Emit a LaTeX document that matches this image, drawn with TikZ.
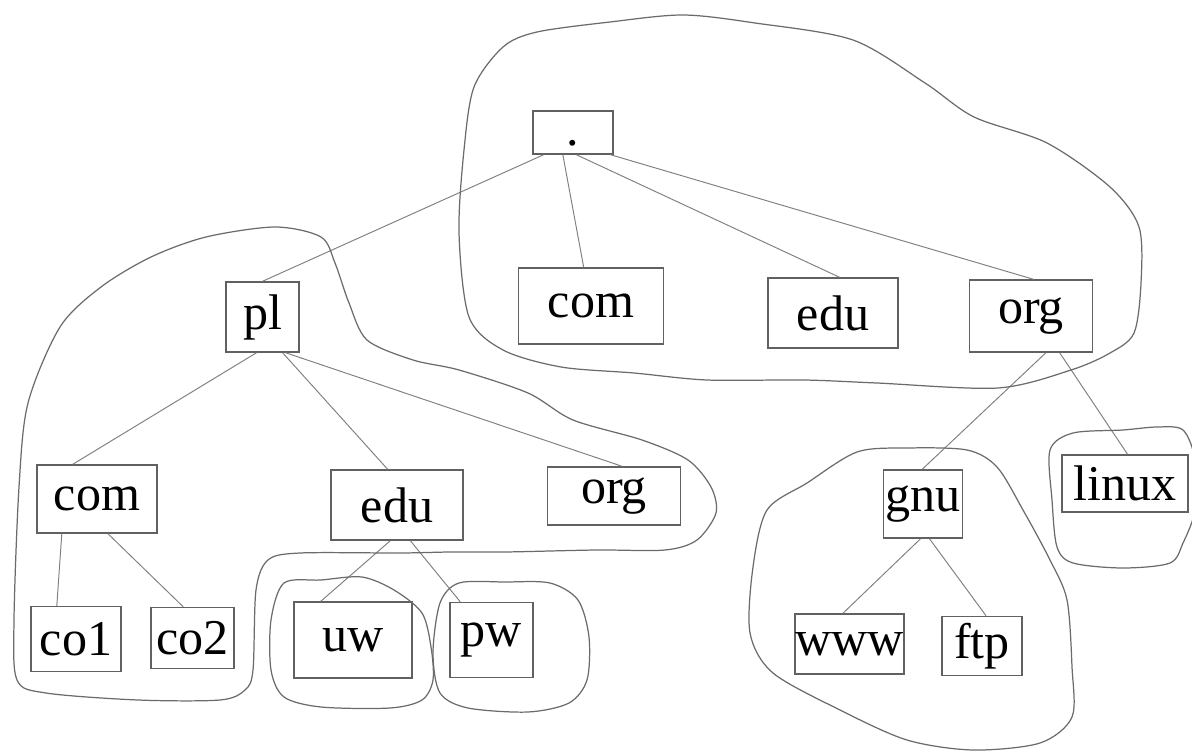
\documentclass[tikz,border=0pt]{standalone}
\usepackage{fontspec}
\setmainfont{Liberation Serif}
\usetikzlibrary{calc}

\newcommand\tie[4]{\draw[link] ($(#1.south west)!#2!(#1.south east)$) -- ($(#3.north west)!#4!(#3.north east)$);}

\begin{document}
\begin{tikzpicture}[x = 0.02 cm, y = -0.02 cm,
	dom/.style 2 args = {draw = black!62, line width = 0.8 pt, inner sep = 0 pt,
		minimum width = #1*0.02 cm, minimum height = #2*0.02 cm,
		font = \fontsize{28.5}{33}\selectfont},
	link/.style = {draw = black!50, line width = 0.55 pt},
	zone/.style = {draw = black!58, line width = 0.7 pt}]
	 \useasboundingbox (0, 0) rectangle (1192, 753);

	 % root and top level
	 \node[dom = {80}{43}, text height = 0.7 cm, text depth = 0.16 cm, minimum height = 0 pt] (root) at (573, 132.5) {.};
	 \node[dom = {73}{70}] (pl) at (262.5, 317) {pl};
	 \node[dom = {145}{76}] (com) at (591, 306) {com};
	 \node[dom = {130}{70}] (edu) at (833, 313) {edu};
	 \node[dom = {123}{72}] (org) at (1031, 316) {org};

	 % under pl
	 \node[dom = {120}{68}] (plcom) at (97, 499) {com};
	 \node[dom = {132}{70}] (pledu) at (397, 505) {edu};
	 \node[dom = {133}{58}] (plorg) at (614, 496) {org};
	 \node[dom = {90}{65}] (co1) at (76, 639) {co1};
	 \node[dom = {83}{61}] (co2) at (192.5, 638) {co2};
	 \node[dom = {118}{76}] (uw) at (353, 640) {uw};
	 \node[dom = {83}{75}] (pw) at (491.5, 640) {pw};

	 % under org
	 \node[dom = {79}{68}] (gnu) at (923, 504) {gnu};
	 \node[dom = {126}{57}] (linux) at (1125, 483.5) {linux};
	 \node[dom = {109}{60}] (www) at (849.5, 644) {www};
	 \node[dom = {80}{59}] (ftp) at (982, 646) {ftp};

	 \tie{root}{.14}{pl}{.5}
	 \tie{root}{.375}{com}{.45}
	 \tie{root}{.54}{edu}{.55}
	 \tie{root}{.96}{org}{.52}
	 \tie{org}{.62}{gnu}{.49}
	 \tie{org}{.73}{linux}{.52}
	 \tie{gnu}{.47}{www}{.44}
	 \tie{gnu}{.58}{ftp}{.55}
	 \tie{pl}{.42}{plcom}{.3}
	 \tie{pl}{.77}{pledu}{.43}
	 \tie{pl}{.81}{plorg}{.56}
	 \tie{plcom}{.21}{co1}{.29}
	 \tie{plcom}{.59}{co2}{.39}
	 \tie{pledu}{.45}{uw}{.23}
	 \tie{pledu}{.6}{pw}{.13}

	 % zones
	 \draw[zone] plot[smooth cycle] coordinates {(474, 87) (503, 47) (537, 32) (610, 22) (683, 15) (755, 23) (853, 40) (925, 83) (974, 117) (1047, 143) (1110, 187) (1139, 227) (1141, 283) (1134, 333) (1110, 353) (1071, 370) (998, 388) (877, 383) (804, 380) (707, 380) (634, 373) (561, 367) (503, 350) (469, 317) (459, 233) (464, 150)};
	 \draw[zone] plot[smooth cycle] coordinates {(275, 227) (321, 237) (335, 263) (349, 303) (367, 340) (413, 360) (459, 370) (528, 393) (573, 420) (642, 440) (688, 460) (711, 487) (716, 513) (697, 540) (665, 550) (596, 550) (505, 552) (450, 552) (400, 553) (300, 553) (268, 560) (256, 590) (253, 670) (245, 690) (220, 700) (138, 700) (46, 693) (17, 680) (14, 620) (19, 487) (28, 403) (60, 327) (101, 287) (151, 257) (206, 237)};
	 \draw[zone] plot[smooth cycle] coordinates {(284, 583) (321, 580) (362, 577) (394, 590) (422, 613) (431, 647) (433, 680) (422, 700) (390, 708) (321, 707) (284, 697) (271, 670) (271, 620)};
	 \draw[zone] plot[smooth cycle] coordinates {(459, 583) (505, 582) (550, 583) (578, 600) (589, 637) (587, 680) (569, 703) (528, 712) (468, 708) (440, 693) (433, 653) (440, 603)};
	 \draw[zone] plot[smooth cycle] coordinates {(857, 452) (907, 448) (967, 450) (997, 467) (1023, 510) (1050, 560) (1067, 600) (1072, 667) (1072, 717) (1040, 743) (973, 750) (907, 740) (840, 710) (773, 673) (750, 633) (753, 567) (767, 510) (807, 483)};
	 \draw[zone] plot[smooth cycle] coordinates {(1050, 450) (1073, 433) (1123, 430) (1157, 427) (1183, 430) (1195, 460) (1195, 510) (1183, 543) (1170, 563) (1123, 568) (1073, 563) (1057, 547) (1052, 500)};
\end{tikzpicture}
\end{document}
